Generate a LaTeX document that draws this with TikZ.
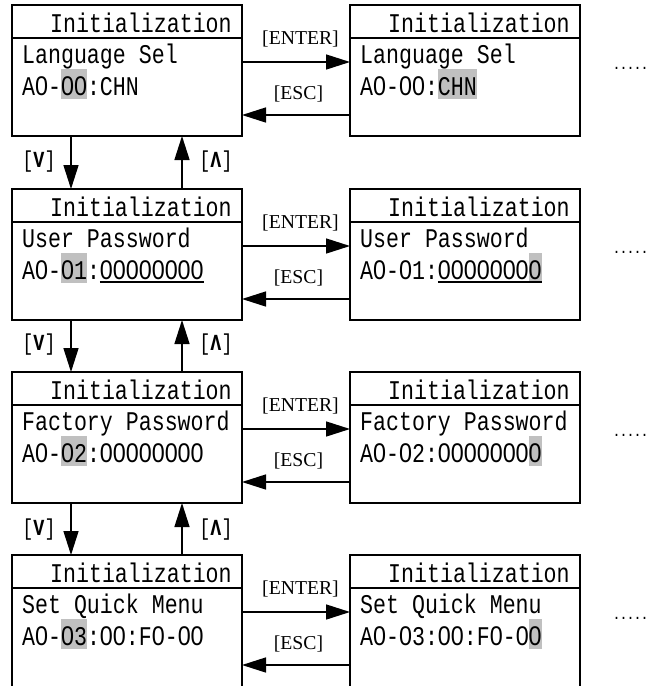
\documentclass[tikz,border=0pt]{standalone}
\usepackage{fontspec}
\usetikzlibrary{arrows.meta,calc}
\newfontfamily\lcd[FakeStretch=0.8]{Liberation Mono}
\newfontfamily\zfont[FakeStretch=0.8633]{Liberation Sans}
\newfontfamily\keyfont{Liberation Serif}
\definecolor{hlgray}{RGB}{192,192,192}
\newcommand\Z{{\zfont 0}}
\newcommand\hl[1]{{\setlength{\fboxsep}{0pt}\colorbox{hlgray}{\vrule width 0pt height 26pt depth 4pt #1}}}
\newcommand\uline[1]{\setbox0\hbox{#1}\copy0\llap{\rule[-3.5pt]{\wd0}{1.4pt}}}
\begin{document}
\begin{tikzpicture}[x=1pt,y=-1pt,
  scr/.style={draw,line width=1.8pt,minimum width=230pt,minimum height=131pt,inner sep=0pt,outer sep=0pt,anchor=north west},
  txt/.style={anchor=base west,inner sep=0pt,font=\lcd\fontsize{27}{27}\selectfont},
  key/.style={anchor=base,inner sep=0pt,font=\keyfont\fontsize{19.7}{20}\selectfont},
  nav/.style={inner sep=0pt,font=\lcd\fontsize{23}{23}\selectfont},
  arr/.style={line width=1.5pt,-{Triangle[length=24pt,width=15pt]}},
  dotrow/.style={anchor=base west,inner sep=0pt,font=\lcd\bfseries\fontsize{14.5}{14.5}\selectfont},
  hdr/.style={line width=1.8pt}]
\useasboundingbox (0,0) rectangle (646,686);
\clip (0,0) rectangle (646,686);
% ---------- row 1
\node[scr] (L1) at (12,5) {};
\node[scr] (R1) at (350,5) {};
\draw[hdr] ($(L1.north west)+(0,33)$) -- ($(L1.north east)+(0,33)$);
\draw[hdr] ($(R1.north west)+(0,33)$) -- ($(R1.north east)+(0,33)$);
\node[txt] (L1h) at (50,32) {Initialization};
\node[txt] (L1a) at (22,63) {Language Sel};
\node[txt] (L1b) at (22,95) {A\Z-\hl{\Z\Z}:CHN};
\node[txt] (R1h) at (388,32) {Initialization};
\node[txt] (R1a) at (360,63) {Language Sel};
\node[txt] (R1b) at (360,95) {A\Z-\Z\Z:\hl{CHN}};
\draw[arr] ($(L1.north east)+(0,57)$) -- ($(R1.north west)+(0,57)$);
\draw[arr] ($(R1.north west)+(0,110)$) -- ($(L1.north east)+(0,110)$);
\node[key] (e1) at (300.5,44) {[ENTER]};
\node[key] (s1) at (298.5,99) {[ESC]};
\node[dotrow] (d1) at (613,69) {......};
% ---------- row 2
\node[scr] (L2) at (12,189) {};
\node[scr] (R2) at (350,189) {};
\draw[hdr] ($(L2.north west)+(0,33)$) -- ($(L2.north east)+(0,33)$);
\draw[hdr] ($(R2.north west)+(0,33)$) -- ($(R2.north east)+(0,33)$);
\node[txt] (L2h) at (50,216) {Initialization};
\node[txt] (L2a) at (22,247) {User Password};
\node[txt] (L2b) at (22,279) {A\Z-\hl{\Z1}:\uline{\Z\Z\Z\Z\Z\Z\Z\Z}};
\node[txt] (R2h) at (388,216) {Initialization};
\node[txt] (R2a) at (360,247) {User Password};
\node[txt] (R2b) at (360,279) {A\Z-\Z1:\uline{\Z\Z\Z\Z\Z\Z\Z\hl{\Z}}};
\draw[arr] ($(L2.north east)+(0,57)$) -- ($(R2.north west)+(0,57)$);
\draw[arr] ($(R2.north west)+(0,110)$) -- ($(L2.north east)+(0,110)$);
\node[key] (e2) at (300.5,228) {[ENTER]};
\node[key] (s2) at (298.5,283) {[ESC]};
\node[dotrow] (d2) at (613,253) {......};
% ---------- row 3
\node[scr] (L3) at (12,372) {};
\node[scr] (R3) at (350,372) {};
\draw[hdr] ($(L3.north west)+(0,33)$) -- ($(L3.north east)+(0,33)$);
\draw[hdr] ($(R3.north west)+(0,33)$) -- ($(R3.north east)+(0,33)$);
\node[txt] (L3h) at (50,399) {Initialization};
\node[txt] (L3a) at (22,430) {Factory Password};
\node[txt] (L3b) at (22,462) {A\Z-\hl{\Z2}:\Z\Z\Z\Z\Z\Z\Z\Z};
\node[txt] (R3h) at (388,399) {Initialization};
\node[txt] (R3a) at (360,430) {Factory Password};
\node[txt] (R3b) at (360,462) {A\Z-\Z2:\Z\Z\Z\Z\Z\Z\Z\hl{\Z}};
\draw[arr] ($(L3.north east)+(0,57)$) -- ($(R3.north west)+(0,57)$);
\draw[arr] ($(R3.north west)+(0,110)$) -- ($(L3.north east)+(0,110)$);
\node[key] (e3) at (300.5,411) {[ENTER]};
\node[key] (s3) at (298.5,466) {[ESC]};
\node[dotrow] (d3) at (613,436) {......};
% ---------- row 4
\node[scr,minimum height=145pt] (L4) at (12,555) {};
\node[scr,minimum height=145pt] (R4) at (350,555) {};
\draw[hdr] ($(L4.north west)+(0,33)$) -- ($(L4.north east)+(0,33)$);
\draw[hdr] ($(R4.north west)+(0,33)$) -- ($(R4.north east)+(0,33)$);
\node[txt] (L4h) at (50,582) {Initialization};
\node[txt] (L4a) at (22,613) {Set Quick Menu};
\node[txt] (L4b) at (22,645) {A\Z-\hl{\Z3}:\Z\Z:F\Z-\Z\Z};
\node[txt] (R4h) at (388,582) {Initialization};
\node[txt] (R4a) at (360,613) {Set Quick Menu};
\node[txt] (R4b) at (360,645) {A\Z-\Z3:\Z\Z:F\Z-\Z\hl{\Z}};
\draw[arr] ($(L4.north east)+(0,57)$) -- ($(R4.north west)+(0,57)$);
\draw[arr] ($(R4.north west)+(0,110)$) -- ($(L4.north east)+(0,110)$);
\node[key] (e4) at (300.5,594) {[ENTER]};
\node[key] (s4) at (298.5,649) {[ESC]};
\node[dotrow] (d4) at (613,619) {......};
% ---------- vertical navigation
\foreach \a/\b/\y in {1/2/162,2/3/345,3/4/530}{
  \draw[arr] ($(L\a.south west)+(59,0)$) -- ($(L\b.north west)+(59,0)$);
  \draw[arr] ($(L\b.north west)+(170,0)$) -- ($(L\a.south west)+(170,0)$);
  \node[nav] (v\a) at (39,\y) {[\textbf{V}]};
  \node[nav] (u\a) at (216,\y) {[\textbf{Λ}]};
}
\end{tikzpicture}
\end{document}
